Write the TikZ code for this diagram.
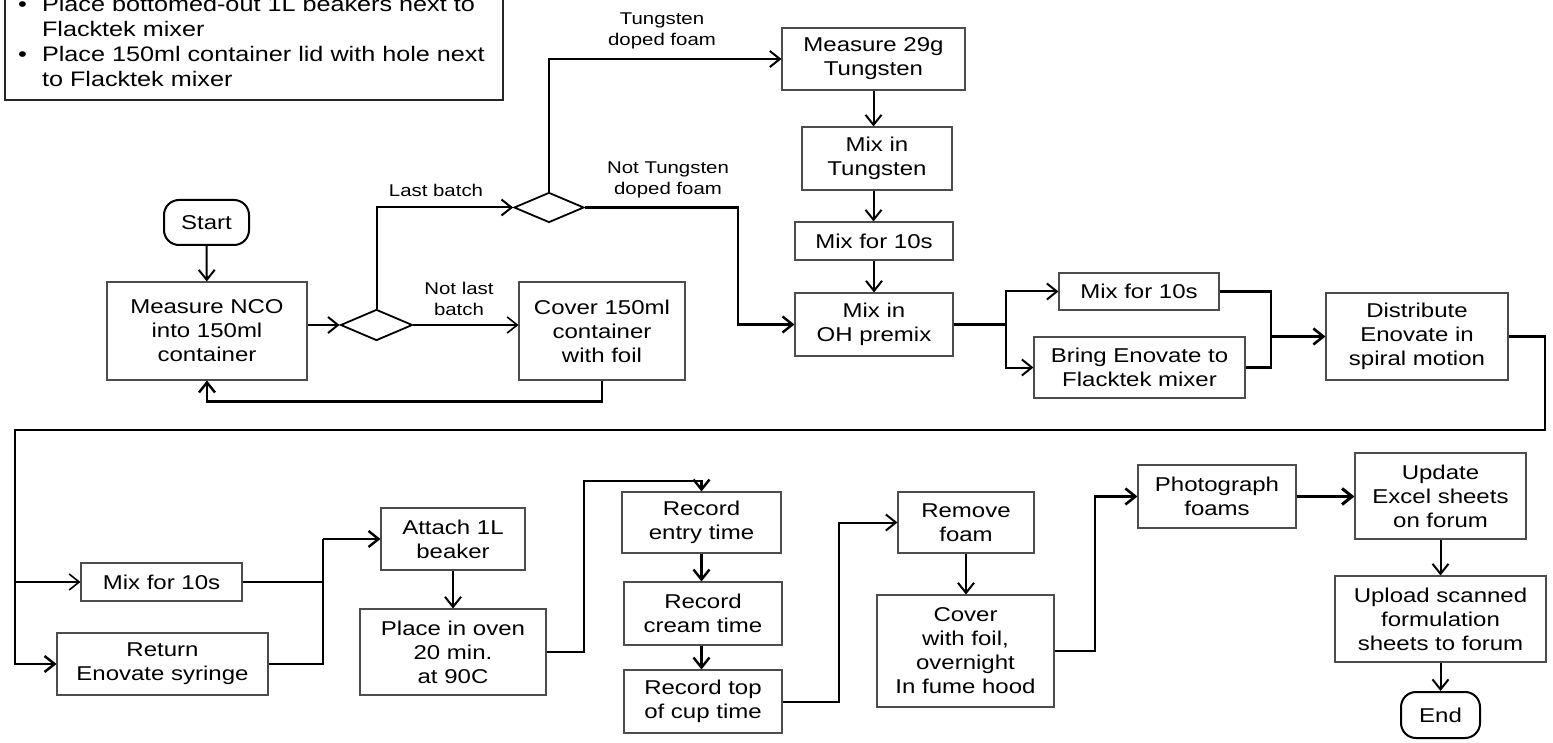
\documentclass[tikz,border=0pt]{standalone}
\usepackage{fontspec}
\setmainfont[FakeStretch=1.2]{Liberation Sans}
\usetikzlibrary{arrows.meta,shapes.geometric}
\begin{document}
\begin{tikzpicture}[x=1pt,y=-1pt,
  box/.style={draw=black!70, line width=1.1pt, align=center, inner sep=0pt, font=\fontsize{20}{24}\selectfont},
  term/.style={draw=black, line width=2pt, rounded corners=15pt, align=center, inner sep=0pt, font=\fontsize{20}{24}\selectfont},
  dec/.style={draw=black, line width=1.8pt, diamond, inner sep=0pt},
  conn/.style={draw=black, line width=2pt, -{Straight Barb[length=10pt,width=16pt]}},
  line/.style={draw=black, line width=2pt},
  lbl/.style={font=\fontsize{17}{21.5}\selectfont, align=center, inner sep=0pt},
]
\useasboundingbox (0,0) rectangle (1553,743);

% notes box
\node[draw=black!85, line width=1.4pt, minimum width=498, minimum height=150, inner sep=0pt] (notebox) at (254,25) {};
\node[anchor=north west, inner sep=0pt, font=\fontsize{21}{25}\selectfont] (notes) at (18,-6)
 {\begin{tabular}{@{}l@{\hspace{15pt}}l@{}}\textbullet & Place bottomed-out 1L beakers next to\\ & Flacktek mixer\\ \textbullet & Place 150ml container lid with hole next\\ & to Flacktek mixer\end{tabular}};

% nodes
\node[term, minimum width=85, minimum height=45] (start) at (206.5,222.5) {Start};
\node[box, minimum width=200, minimum height=98] (nco) at (207,331) {Measure NCO\\into 150ml\\container};
\node[dec, minimum width=72, minimum height=31] (d1) at (376.5,325) {};
\node[box, minimum width=166, minimum height=98] (cover) at (602,331) {Cover 150ml\\container\\with foil};
\node[dec, minimum width=70, minimum height=30] (d2) at (549,207.5) {};
\node[box, minimum width=183, minimum height=62] (m29) at (873.5,59) {Measure 29g\\Tungsten};
\node[box, minimum width=150, minimum height=63] (mixw) at (877,158.5) {Mix in\\Tungsten};
\node[box, minimum width=158, minimum height=38] (mixa) at (874,241) {Mix for 10s};
\node[box, minimum width=158, minimum height=63] (oh) at (874,324.5) {Mix in\\OH premix};
\node[box, minimum width=160, minimum height=37] (mixb) at (1139,291.5) {Mix for 10s};
\node[box, minimum width=211, minimum height=61] (bring) at (1139.5,367.5) {Bring Enovate to\\Flacktek mixer};
\node[box, minimum width=182, minimum height=87] (dist) at (1417,336.5) {Distribute\\Enovate in\\spiral motion};
\node[box, minimum width=161, minimum height=38] (mixc) at (161.5,582) {Mix for 10s};
\node[box, minimum width=211, minimum height=62] (ret) at (162.5,664) {Return\\Enovate syringe};
\node[box, minimum width=144, minimum height=62] (attach) at (453,539) {Attach 1L\\beaker};
\node[box, minimum width=186, minimum height=86] (oven) at (453,652) {Place in oven\\20 min.\\at 90C};
\node[box, minimum width=159, minimum height=61] (rentry) at (701.5,522.5) {Record\\entry time};
\node[box, minimum width=158, minimum height=63] (rcream) at (703,613.5) {Record\\cream time};
\node[box, minimum width=158, minimum height=63] (rtop) at (703,701.5) {Record top\\of cup time};
\node[box, minimum width=136, minimum height=61] (remove) at (966,522.5) {Remove\\foam};
\node[box, minimum width=177, minimum height=112] (coverf) at (965.5,651) {Cover\\with foil,\\overnight\\In fume hood};
\node[box, minimum width=158, minimum height=63] (photo) at (1217,496.5) {Photograph\\foams};
\node[box, minimum width=171, minimum height=86] (update) at (1440.5,496) {Update\\Excel sheets\\on forum};
\node[box, minimum width=211, minimum height=86] (upload) at (1440.5,619) {Upload scanned\\formulation\\sheets to forum};
\node[term, minimum width=79, minimum height=46] (end) at (1440.5,715) {End};

% labels
\node[lbl] (llast) at (436,190) {Last batch};
\node[lbl] (lnotlast) at (459,299) {Not last\\batch};
\node[lbl] (ltung) at (662,31) {Tungsten\\doped foam};
\node[lbl] (lnottung) at (668,180) {Not Tungsten\\doped foam};

% helper coordinates
\coordinate (nt) at (738,207.5);
\coordinate (sp1) at (1006,324.5);
\coordinate (mg1) at (1271,336.5);
\coordinate (lp1) at (1545,430);
\coordinate (lp2) at (15,430);
\coordinate (lp3) at (15,582);
\coordinate (mg2) at (323,539);
\coordinate (c1) at (584,481);
\coordinate (c2) at (839,522.5);
\coordinate (c3) at (1095,496.5);

% connectors
\draw[conn] (start) -- (nco);
\draw[conn] (nco.east |- d1.west) -- (d1.west);
\draw[conn, line width=1.6pt] (d1.east) -- (cover.west |- d1.east);
\draw[conn, line width=2.4pt] (cover.south) -- ++(0,21) -| (nco.south);
\draw[conn] (d1.north) |- (d2.west);
\draw[conn] (d2.north) |- (m29.west);
\draw[conn, line width=2.4pt] (d2.east) -- (nt) |- (oh.west);
\draw[conn] (m29.south) -- (m29.south |- mixw.north);
\draw[conn] (m29.south |- mixw.south) -- (m29.south |- mixa.north);
\draw[conn] (mixa.south) -- (oh.north);
\draw[line, line width=3pt] (oh.east) -- (sp1);
\draw[conn] (sp1) |- (mixb.west);
\draw[conn] (sp1) |- (bring.west);
\draw[line, line width=2.4pt] (mixb.east) -| (mg1);
\draw[line, line width=2.4pt] (bring.east) -| (mg1);
\draw[conn, line width=2.6pt] (mg1) -- (dist.west);
\draw[conn, line width=2.4pt] (dist.east) -| (lp1) -- (lp2) |- (ret.west);
\draw[conn, line width=1.6pt] (lp3) -- (mixc.west);
\draw[line, line width=1.6pt] (mixc.east) -| (mg2);
\draw[line, line width=2.4pt] (ret.east) -| (mg2);
\draw[conn, line width=2.4pt] (mg2) -- (attach.west);
\draw[conn] (attach.south) -- (oven.north);
\draw[conn, line width=2.4pt] (oven.east) -| (c1) -| (rentry.north);
\draw[conn, line width=2.4pt] (rentry.south) -- (rentry.south |- rcream.north);
\draw[conn, line width=2.4pt] (rentry.south |- rcream.south) -- (rentry.south |- rtop.north);
\draw[conn] (rtop.east) -| (c2) -- (remove.west);
\draw[conn] (remove.south) -- (remove.south |- coverf.north);
\draw[conn, line width=2.6pt] (coverf.east) -| (c3) -- (photo.west);
\draw[conn, line width=3pt] (photo.east) -- (update.west |- photo.east);
\draw[conn] (update.south) -- (upload.north);
\draw[conn] (upload.south) -- (end.north);
\end{tikzpicture}
\end{document}
